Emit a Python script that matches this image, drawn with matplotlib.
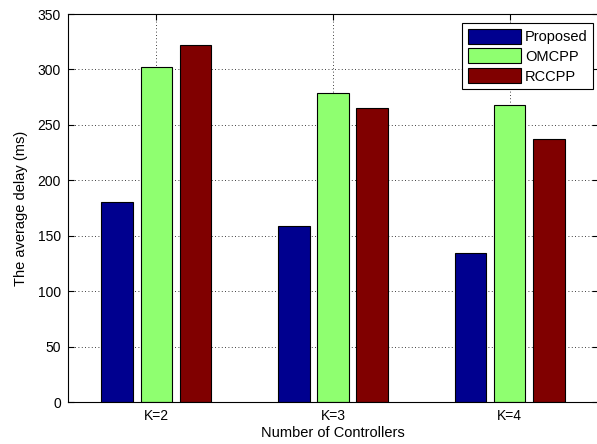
import numpy as np
import matplotlib.pyplot as plt

plt.rcParams['font.family'] = ['Liberation Sans', 'DejaVu Sans']

# data
categories = ['K=2', 'K=3', 'K=4']
proposed = [180, 159, 134.5]
omcpp = [302, 279, 267.5]
rccpp = [322, 265.5, 237.5]
series_names = ['Proposed', 'OMCPP', 'RCCPP']
colors = ['#00008F', '#8FFF70', '#800000']

fig = plt.figure(figsize=(5.97, 4.44), dpi=100)
ax = fig.add_axes([68 / 597, 42 / 444, 530 / 597, 388 / 444])

x = np.arange(1, len(categories) + 1)
width = 0.178
offset = 0.222
for i, (vals, name, c) in enumerate(zip([proposed, omcpp, rccpp], series_names, colors)):
    ax.bar(x + (i - 1) * offset, vals, width, color=c, edgecolor='black',
           linewidth=0.8, label=name, zorder=2)

ax.set_xlim(0.5, 3.5)
ax.set_ylim(0, 350)
ax.set_xticks(x)
ax.set_xticklabels(categories)
ax.set_yticks(np.arange(0, 351, 50))

ax.set_axisbelow(True)
ax.grid(True, linestyle=(0, (1, 3)), color='black', linewidth=0.6)
ax.tick_params(direction='in', length=4, top=True, right=True, labelsize=10,
               colors='black', pad=5)
for s in ax.spines.values():
    s.set_linewidth(0.8)

ax.set_xlabel('Number of Controllers', fontsize=10.5, labelpad=2)
ax.set_ylabel('The average delay (ms)', fontsize=10.5, labelpad=7)

leg = ax.legend(loc='upper right', bbox_to_anchor=(0.997, 0.985), fontsize=10.5,
                fancybox=False, framealpha=1, edgecolor='black',
                handlelength=3.6, handleheight=1.2, borderpad=0.4,
                labelspacing=0.3, handletextpad=0.3, borderaxespad=0.2)
leg.get_frame().set_linewidth(0.8)

plt.savefig('out.png', dpi=100)
